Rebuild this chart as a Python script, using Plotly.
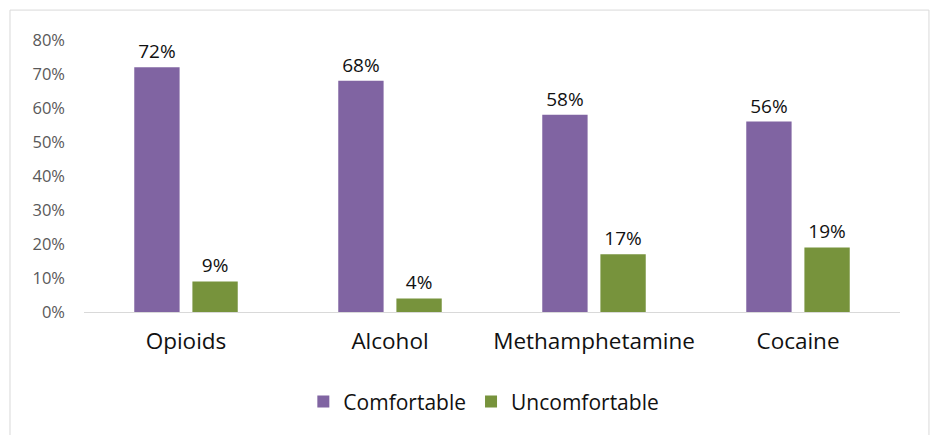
import plotly.graph_objects as go

# Survey responses by substance
categories = ["Opioids", "Alcohol", "Methamphetamine", "Cocaine"]
comfortable = [72, 68, 58, 56]
uncomfortable = [9, 4, 17, 19]
y_ticks = [0, 10, 20, 30, 40, 50, 60, 70, 80]
y_tick_labels = [f"{v}%" for v in y_ticks]

PURPLE = "#8064A2"
GREEN = "#77933C"
FONT = "Open Sans, Noto Sans, DejaVu Sans, sans-serif"

fig = go.Figure()
for name, vals, color in [("Comfortable", comfortable, PURPLE),
                          ("Uncomfortable", uncomfortable, GREEN)]:
    fig.add_trace(go.Bar(
        name=name, x=categories, y=vals,
        marker=dict(color=color, line=dict(width=0)),
        text=[f"{v}%" for v in vals], textposition="outside",
        textfont=dict(size=19, color="#111111", family=FONT),
        cliponaxis=False,
    ))

fig.update_layout(
    width=936, height=435,
    margin=dict(l=84, r=36, t=40, b=123),
    paper_bgcolor="white", plot_bgcolor="white",
    barmode="group", bargap=0.43, bargroupgap=0.22,
    font=dict(family=FONT),
    showlegend=True,
    legend=dict(orientation="h", x=0.49, xanchor="center", y=-0.33, yanchor="middle",
                font=dict(size=21, color="#111111"), itemwidth=30,
                traceorder="normal"),
    xaxis=dict(showline=True, linecolor="#d9d9d9", linewidth=1, ticks="",
               tickfont=dict(size=22.5, color="#111111"), ticklabelstandoff=9),
    yaxis=dict(range=[0, 80], tickmode="array", tickvals=y_ticks, ticktext=y_tick_labels,
               showgrid=False, zeroline=False, showline=False,
               tickfont=dict(size=16.5, color="#595959"), ticklabelstandoff=18),
    shapes=[dict(type="rect", xref="paper", yref="paper",
                 x0=-0.0907, x1=1.0355, y0=-0.5, y1=1.110,
                 line=dict(color="#d9d9d9", width=1), fillcolor="rgba(0,0,0,0)",
                 layer="below")],
)

fig.write_html("out.html")
